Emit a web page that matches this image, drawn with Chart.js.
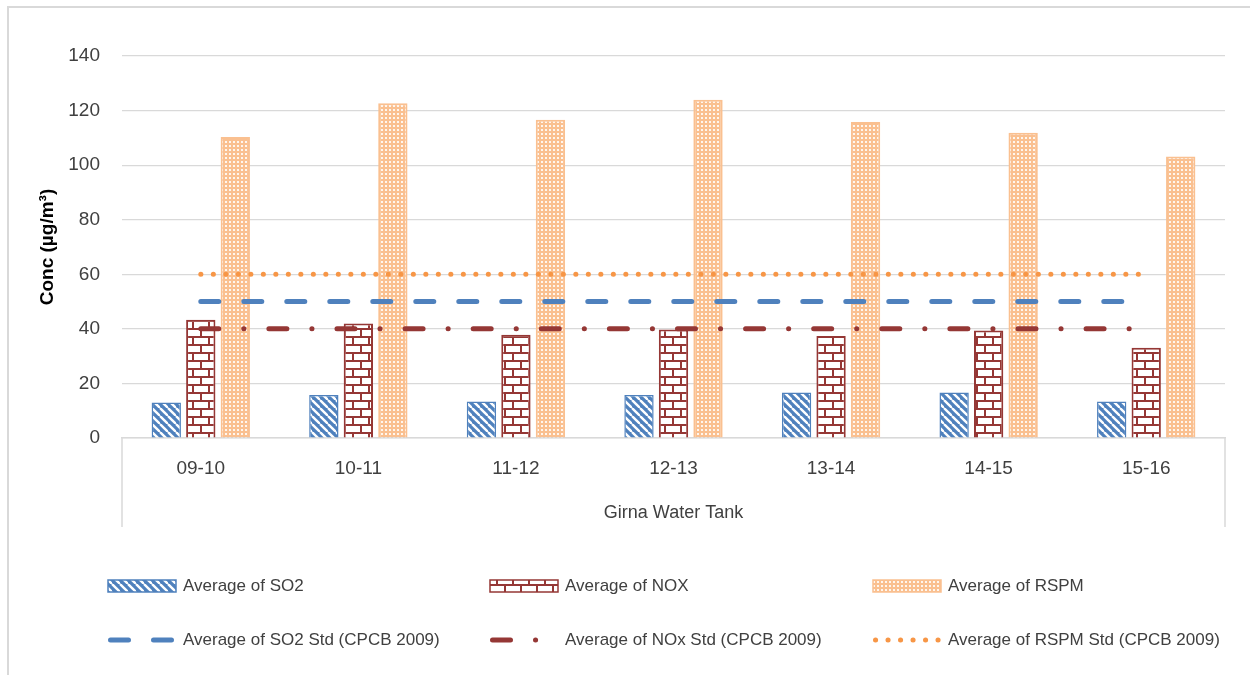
<!DOCTYPE html>
<html>
<head>
<meta charset="utf-8">
<script src="https://cdn.jsdelivr.net/npm/chart.js@4"></script>
<style>
  html, body { margin: 0; padding: 0; background: #fff; }
  #wrap { width: 1250px; height: 675px; }
</style>
</head>
<body>
<div id="wrap"><canvas id="chart" width="1250" height="675"></canvas></div>
<script>
// data
const years = ['09-10', '10-11', '11-12', '12-13', '13-14', '14-15', '15-16']
const so2 = [13.0, 15.8, 13.4, 15.8, 16.7, 16.7, 13.4]
const nox = [43.3, 42.0, 37.8, 39.8, 37.4, 39.4, 33.1]
const rspm = [110.3, 122.7, 116.6, 124.0, 115.8, 111.9, 103.2]
const so2Std = [50, 50, 50, 50, 50, 50, 50]
const noxStd = [40, 40, 40, 40, 40, 40, 40]
const rspmStd = [60, 60, 60, 60, 60, 60, 60]
const yTicks = [0, 20, 40, 60, 80, 100, 120, 140]

const FONT = "'Liberation Sans Narrow', 'Arial Narrow', 'Liberation Sans', sans-serif"
const TEXT = '#404040'
const GRID = '#d9d9d9'

const BLUE = '#4f81bd'
const RED = '#953735'
const PEACH = '#fac090'
const ORANGE = '#f79646'

function makePattern(w, h, draw) {
  const c = document.createElement('canvas')
  c.width = w
  c.height = h
  draw(c.getContext('2d'), w, h)
  return c.getContext('2d').createPattern(c, 'repeat')
}

// wide downward diagonal
const so2Fill = makePattern(8, 8, (g, w, h) => {
  g.fillStyle = BLUE
  g.fillRect(0, 0, w, h)
  g.strokeStyle = '#fff'
  g.lineWidth = 2.4
  for (let k = -1; k <= 1; k++) {
    g.beginPath()
    g.moveTo(k * w, 0)
    g.lineTo(k * w + w, h)
    g.stroke()
  }
})

// brick
const noxFill = makePattern(16, 16, (g, w, h) => {
  g.fillStyle = '#fff'
  g.fillRect(0, 0, w, h)
  g.fillStyle = RED
  g.fillRect(0, 0, w, 2)
  g.fillRect(0, 8, w, 2)
  g.fillRect(0, 0, 2, 8)
  g.fillRect(8, 8, 2, 8)
})

// small dots
const rspmFill = makePattern(4, 4, (g, w, h) => {
  g.fillStyle = PEACH
  g.fillRect(0, 0, w, h)
  g.fillStyle = 'rgba(255,255,255,0.85)'
  g.fillRect(1, 1, 2, 2)
})

const SO2_DASH = [18, 25]
const NOX_DASH = [18, 25, 0.1, 25]
const RSPM_DASH = [0.1, 12.4]

const legendItems = [
  {text: 'Average of SO2', kind: 'bar', fill: so2Fill, stroke: BLUE},
  {text: 'Average of NOX', kind: 'bar', fill: noxFill, stroke: RED},
  {text: 'Average of RSPM', kind: 'bar', fill: rspmFill, stroke: PEACH},
  {text: 'Average of SO2 Std (CPCB 2009)', kind: 'line', color: BLUE, dash: SO2_DASH},
  {text: 'Average of NOx Std (CPCB 2009)', kind: 'line', color: RED, dash: NOX_DASH},
  {text: 'Average of RSPM Std (CPCB 2009)', kind: 'line', color: ORANGE, dash: RSPM_DASH}
]

// white background and the thin outer frame
const frame = {
  id: 'frame',
  beforeDraw(chart) {
    const ctx = chart.ctx
    ctx.save()
    ctx.fillStyle = '#fff'
    ctx.fillRect(0, 0, chart.width, chart.height)
    ctx.strokeStyle = GRID
    ctx.lineWidth = 2
    ctx.strokeRect(8, 7, chart.width + 10, chart.height + 10)
    ctx.restore()
  }
}

// side walls of the category axis box
const axisBox = {
  id: 'axisBox',
  afterDraw(chart) {
    const {ctx, chartArea} = chart
    ctx.save()
    ctx.strokeStyle = GRID
    ctx.lineWidth = 1.5
    ctx.beginPath()
    ctx.moveTo(chartArea.left, chartArea.bottom)
    ctx.lineTo(chartArea.left, chartArea.bottom + 89)
    ctx.moveTo(chartArea.right, chartArea.bottom)
    ctx.lineTo(chartArea.right, chartArea.bottom + 89)
    ctx.stroke()
    ctx.restore()
  }
}

// legend in fixed columns, like the office chart
const gridLegend = {
  id: 'gridLegend',
  afterDraw(chart) {
    const ctx = chart.ctx
    const cols = [108, 490, 873]
    const rows = [586, 640]
    ctx.save()
    ctx.font = '17px ' + FONT
    ctx.textBaseline = 'middle'
    ctx.fillStyle = TEXT
    legendItems.forEach((it, i) => {
      const x = cols[i % 3]
      const y = rows[Math.floor(i / 3)]
      if (it.kind === 'bar') {
        ctx.fillStyle = it.fill
        ctx.fillRect(x, y - 6, 68, 12)
        ctx.strokeStyle = it.stroke
        ctx.lineWidth = 1.5
        ctx.strokeRect(x, y - 6, 68, 12)
      } else {
        ctx.strokeStyle = it.color
        ctx.lineWidth = 5
        ctx.lineCap = 'round'
        ctx.setLineDash(it.dash)
        ctx.beginPath()
        ctx.moveTo(x + 2.5, y)
        ctx.lineTo(x + 67, y)
        ctx.stroke()
        ctx.setLineDash([])
      }
      ctx.fillStyle = TEXT
      ctx.fillText(it.text, x + 75, y)
    })
    ctx.restore()
  }
}

const lineDefaults = {
  type: 'line',
  borderWidth: 5,
  borderCapStyle: 'round',
  pointRadius: 0,
  fill: false,
  tension: 0,
  order: 0
}

new Chart(document.getElementById('chart'), {
  type: 'bar',
  data: {
    labels: years,
    datasets: [
      {label: 'Average of SO2', data: so2, backgroundColor: so2Fill, borderColor: BLUE, borderWidth: 1.5, order: 1},
      {label: 'Average of NOX', data: nox, backgroundColor: noxFill, borderColor: RED, borderWidth: 2, order: 1},
      {label: 'Average of RSPM', data: rspm, backgroundColor: rspmFill, borderColor: PEACH, borderWidth: 2, order: 1},
      {...lineDefaults, label: 'Average of SO2 Std (CPCB 2009)', data: so2Std, borderColor: BLUE, borderDash: SO2_DASH},
      {...lineDefaults, label: 'Average of NOx Std (CPCB 2009)', data: noxStd, borderColor: RED, borderDash: NOX_DASH},
      {...lineDefaults, label: 'Average of RSPM Std (CPCB 2009)', data: rspmStd, borderColor: ORANGE, borderDash: RSPM_DASH}
    ]
  },
  options: {
    responsive: false,
    animation: false,
    devicePixelRatio: 1,
    categoryPercentage: 0.657,
    barPercentage: 0.85,
    layout: {
      padding: {left: 20, right: 25, top: 56, bottom: 147}
    },
    plugins: {
      legend: { display: false },
      tooltip: { enabled: false }
    },
    scales: {
      x: {
        grid: { display: false },
        border: { display: true, color: GRID, width: 1.5 },
        ticks: { color: TEXT, font: { family: FONT, size: 19 }, padding: 11 },
        title: {
          display: true,
          text: 'Girna Water Tank',
          color: TEXT,
          font: { family: FONT, size: 18 },
          padding: { top: 13 }
        },
        afterFit(scale) { scale.height = 90 }
      },
      y: {
        min: 0,
        max: 140,
        afterBuildTicks(scale) { scale.ticks = yTicks.map(v => ({value: v})) },
        grid: { color: GRID, lineWidth: 1.2, drawTicks: false },
        border: { display: false },
        ticks: { color: TEXT, font: { family: FONT, size: 19 }, padding: 22 },
        title: {
          display: true,
          text: 'Conc (µg/m³)',
          color: '#000',
          font: { family: FONT, size: 19, weight: 'bold' },
          padding: { top: 16, bottom: 0 }
        },
        afterFit(scale) { scale.width = 102 }
      }
    }
  },
  plugins: [frame, axisBox, gridLegend]
})
</script>
</body>
</html>
